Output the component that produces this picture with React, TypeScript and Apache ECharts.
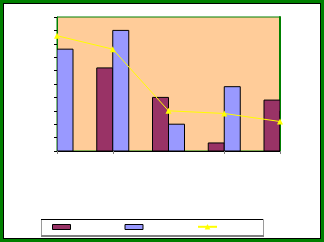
import React, { useEffect, useRef } from "react";
import * as echarts from "echarts";

const categories = ["1", "2", "3", "4", "5"];
const seriesA = [6.5, 6.2, 4.0, 0.6, 3.8];
const seriesB = [7.6, 9.0, 2.0, 4.8, 3.0];
const seriesLine = [8.6, 7.6, 3.0, 2.8, 2.2];
const yMin = 0;
const yMax = 10;
const yInterval = 1;

const COLOR_A = "#993366";
const COLOR_B = "#9999FF";
const COLOR_LINE = "#FFFF00";
const BAR_W = 16;

function barRenderer(color: string, side: number) {
  return (params: any, api: any) => {
    const idx = api.value(0);
    const val = api.value(1);
    const top = api.coord([idx, val]);
    const base = api.coord([idx, 0]);
    const x = side < 0 ? top[0] - BAR_W : top[0];
    return {
      type: "rect",
      shape: { x: x, y: top[1], width: BAR_W, height: base[1] - top[1] },
      style: { fill: color, stroke: "#000000", lineWidth: 1 },
    };
  };
}

export default function App() {
  const ref = useRef<HTMLDivElement>(null);
  useEffect(() => {
    document.body.style.margin = "0";
    if (!ref.current) return;
    const chart = echarts.init(ref.current, null, { renderer: "svg" });
    chart.setOption({
      animation: false,
      grid: {
        left: 57,
        right: 44,
        top: 17,
        bottom: 91,
        show: true,
        backgroundColor: "#FFCC99",
        borderColor: "#008000",
        borderWidth: 1,
      },
      graphic: [
        {
          type: "rect",
          shape: { x: 41.5, y: 219.5, width: 222, height: 16 },
          style: { fill: "#ffffff", stroke: "#9a9a9a", lineWidth: 1 },
          z: 0,
        },
        {
          type: "line",
          shape: { x1: 41, y1: 219.5, x2: 263, y2: 219.5 },
          style: { stroke: "#000000", lineWidth: 1 },
          z: 1,
        },
        {
          type: "line",
          shape: { x1: 41, y1: 236, x2: 264, y2: 236 },
          style: { stroke: "#808080", lineWidth: 2 },
          z: 1,
        },
      ],
      legend: [
        {
          left: 52,
          top: 224,
          itemWidth: 18,
          itemHeight: 5,
          itemGap: 49,
          padding: 0,
          formatter: () => "",
          textStyle: { fontSize: 1, lineHeight: 1 },
          data: [
            { name: "S1", icon: "rect", itemStyle: { color: COLOR_A, borderColor: "#000000", borderWidth: 1 } },
            { name: "S2", icon: "rect", itemStyle: { color: COLOR_B, borderColor: "#000000", borderWidth: 1 } },
          ],
        },
        {
          left: 197,
          top: 224,
          itemWidth: 19,
          itemHeight: 7,
          padding: 0,
          formatter: () => "",
          textStyle: { fontSize: 1, lineHeight: 1 },
          data: [{ name: "S3" }],
        },
      ],
      xAxis: {
        type: "category",
        data: categories,
        boundaryGap: false,
        axisLine: { lineStyle: { color: "#000000", width: 1 } },
        axisTick: {
          show: true,
          length: 3,
          interval: (i: number) => i !== 2,
          lineStyle: { color: "#808080" },
        },
        axisLabel: { show: false },
        splitLine: { show: false },
      },
      yAxis: [
        {
          type: "value",
          min: yMin,
          max: yMax,
          interval: yInterval,
          axisLine: { show: true, lineStyle: { color: "#008000", width: 1 } },
          axisTick: { show: true, length: 3, lineStyle: { color: "#000000" } },
          axisLabel: { show: false },
          splitLine: { show: false },
        },
        {
          type: "value",
          position: "right",
          min: yMin,
          max: yMax,
          interval: yInterval,
          axisLine: { show: true, lineStyle: { color: "#008000", width: 2 } },
          axisTick: { show: false },
          axisLabel: { show: false },
          splitLine: { show: false },
        },
      ],
      series: [
        {
          name: "S1",
          type: "custom",
          data: seriesA.map((v, i) => [i, v]),
          encode: { x: 0, y: 1 },
          clip: true,
          itemStyle: { color: COLOR_A },
          renderItem: barRenderer(COLOR_A, -1),
          z: 2,
        },
        {
          name: "S2",
          type: "custom",
          data: seriesB.map((v, i) => [i, v]),
          encode: { x: 0, y: 1 },
          clip: true,
          itemStyle: { color: COLOR_B },
          renderItem: barRenderer(COLOR_B, 1),
          z: 2,
        },
        {
          name: "S3",
          type: "line",
          data: seriesLine,
          symbol: "triangle",
          symbolSize: 6,
          clip: false,
          lineStyle: { color: COLOR_LINE, width: 1 },
          itemStyle: { color: COLOR_LINE },
          z: 5,
        },
      ],
    });
    return () => chart.dispose();
  }, []);

  return (
    <div style={{ position: "relative", width: 324, height: 242, background: "#008000" }}>
      <div
        style={{
          position: "absolute",
          left: 3,
          top: 3,
          width: 318,
          height: 236,
          boxSizing: "border-box",
          border: "1px solid #000000",
          background: "#ffffff",
        }}
      />
      <div ref={ref} style={{ position: "absolute", left: 0, top: 0, width: 324, height: 242 }} />
    </div>
  );
}
